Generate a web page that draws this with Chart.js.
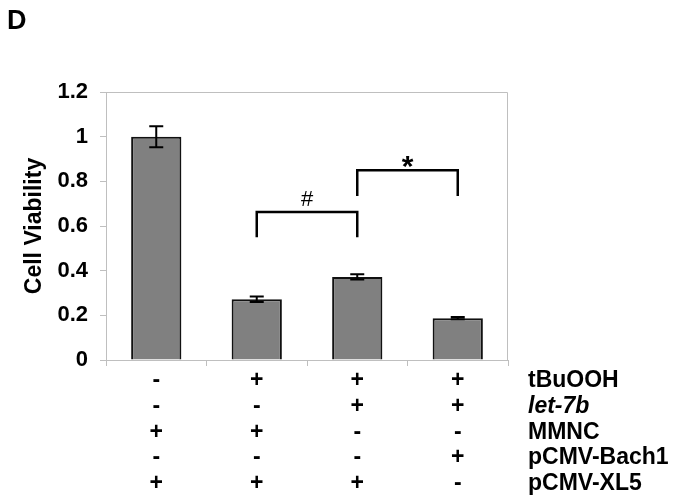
<!DOCTYPE html>
<html>
<head>
<meta charset="utf-8">
<script src="https://cdn.jsdelivr.net/npm/chart.js@4"></script>
<style>
  html, body { margin: 0; padding: 0; background: #fff; }
  #wrap { width: 675px; height: 504px; position: relative; }
</style>
</head>
<body>
<div id="wrap"><canvas id="viabilityChart"></canvas></div>
<script>
const rowNames = ['tBuOOH', 'let-7b', 'MMNC', 'pCMV-Bach1', 'pCMV-XL5'];
const tBuOOH   = ['-', '+', '+', '+'];
const let7b    = ['-', '-', '+', '+'];
const mmnc     = ['+', '+', '-', '-'];
const bach1    = ['-', '-', '-', '+'];
const xl5      = ['+', '+', '+', '-'];
const viability = [1.0, 0.272, 0.372, 0.187];
const errors    = [0.047, 0.012, 0.012, 0.005];
const yTicks    = [0, 0.2, 0.4, 0.6, 0.8, 1, 1.2];

// significance brackets: bar index pair, bracket height, arm bottom
const brackets = [
  { from: 1, to: 2, top: 0.663, arm: 0.55, mark: '#' },
  { from: 2, to: 3, top: 0.85, arm: 0.734, mark: '*' }
];

const FONT = "'Liberation Sans', Arial, sans-serif";
const AXIS_GREY = '#bfbfbf';
const LINE_H = 25.75;
const TICK_LEN = 6;
const TICK_PAD = 2;

const signRows = [tBuOOH, let7b, mmnc, bach1, xl5];
const labels = viability.map((v, i) => signRows.map(r => r[i]));

const overlay = {
  id: 'overlay',
  afterDatasetsDraw(chart) {
    const ctx = chart.ctx;
    const x = chart.scales.x;
    const y = chart.scales.y;
    const area = chart.chartArea;
    ctx.save();

    // plot box (top and right edges)
    ctx.strokeStyle = AXIS_GREY;
    ctx.lineWidth = 1;
    ctx.beginPath();
    ctx.moveTo(area.left, area.top + 0.5);
    ctx.lineTo(area.right - 0.5, area.top + 0.5);
    ctx.lineTo(area.right - 0.5, area.bottom);
    ctx.stroke();

    // error bars
    ctx.strokeStyle = '#000';
    ctx.lineWidth = 2;
    viability.forEach((v, i) => {
      const cx = x.getPixelForValue(i);
      const hi = y.getPixelForValue(v + errors[i]);
      const lo = y.getPixelForValue(v - errors[i]);
      ctx.beginPath();
      ctx.moveTo(cx, hi); ctx.lineTo(cx, lo);
      ctx.moveTo(cx - 7, hi); ctx.lineTo(cx + 7, hi);
      ctx.moveTo(cx - 7, lo); ctx.lineTo(cx + 7, lo);
      ctx.stroke();
    });

    // brackets
    ctx.lineWidth = 2.5;
    ctx.fillStyle = '#000';
    ctx.textAlign = 'center';
    ctx.textBaseline = 'alphabetic';
    brackets.forEach(b => {
      const x1 = x.getPixelForValue(b.from);
      const x2 = x.getPixelForValue(b.to);
      const yt = y.getPixelForValue(b.top);
      const ya = y.getPixelForValue(b.arm);
      ctx.beginPath();
      ctx.moveTo(x1, ya); ctx.lineTo(x1, yt); ctx.lineTo(x2, yt); ctx.lineTo(x2, ya);
      ctx.stroke();
      if (b.mark === '*') {
        ctx.font = 'bold 30px ' + FONT;
        ctx.fillText(b.mark, (x1 + x2) / 2, yt + 6);
      } else {
        ctx.font = '22px ' + FONT;
        ctx.fillText(b.mark, (x1 + x2) / 2, yt - 6);
      }
    });

    // row names of the treatment table
    ctx.textAlign = 'left';
    ctx.textBaseline = 'middle';
    rowNames.forEach((name, i) => {
      ctx.font = (name === 'let-7b' ? 'italic bold ' : 'bold ') + '23px ' + FONT;
      ctx.fillText(name, 528, x.top + TICK_LEN + TICK_PAD + LINE_H / 2 + i * LINE_H);
    });

    // panel letter
    ctx.font = 'bold 27px ' + FONT;
    ctx.textBaseline = 'alphabetic';
    ctx.fillText('D', 7, 29);
    ctx.restore();
  }
};

new Chart(document.getElementById('viabilityChart'), {
  type: 'bar',
  data: {
    labels: labels,
    datasets: [{
      data: viability,
      backgroundColor: '#808080',
      borderColor: '#111',
      borderWidth: 2,
      barPercentage: 0.5,
      categoryPercentage: 1.0
    }]
  },
  options: {
    responsive: true,
    maintainAspectRatio: false,
    animation: false,
    layout: { padding: { top: 92, right: 167, bottom: 0, left: 0 } },
    plugins: { legend: { display: false }, tooltip: { enabled: false } },
    scales: {
      x: {
        afterFit: s => { s.height = 144; },
        grid: { drawOnChartArea: false, drawTicks: true, tickLength: TICK_LEN, color: AXIS_GREY },
        border: { color: AXIS_GREY },
        ticks: {
          autoSkip: false,
          maxRotation: 0,
          padding: TICK_PAD,
          color: '#000',
          font: { family: FONT, size: 23, weight: 'bold', lineHeight: LINE_H / 23 }
        }
      },
      y: {
        min: 0,
        max: 1.2,
        afterFit: s => { s.width = 106; },
        afterBuildTicks: s => { s.ticks = yTicks.map(v => ({ value: v })); },
        grid: { drawOnChartArea: false, drawTicks: true, tickLength: TICK_LEN, color: AXIS_GREY },
        border: { color: AXIS_GREY },
        title: {
          display: true,
          text: 'Cell Viability',
          color: '#000',
          padding: { top: 21, bottom: 0 },
          font: { family: FONT, size: 23, weight: 'bold' }
        },
        ticks: {
          padding: 12,
          color: '#000',
          font: { family: FONT, size: 22, weight: 'bold' },
          callback: v => String(+Number(v).toFixed(1))
        }
      }
    }
  },
  plugins: [overlay]
});
</script>
</body>
</html>
